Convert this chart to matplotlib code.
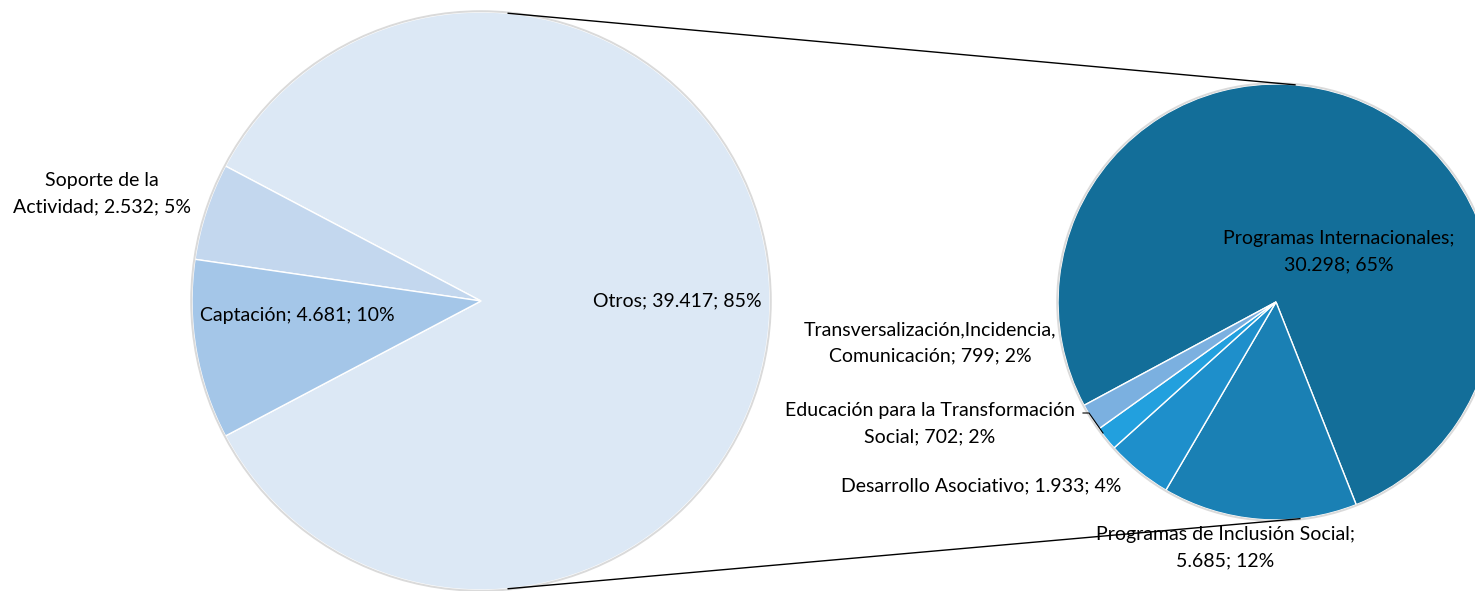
import matplotlib.pyplot as plt
import numpy as np

plt.rcParams['font.family'] = ['Lato', 'DejaVu Sans']

# main pie (left)
main_labels = ['Otros', 'Soporte de la\nActividad', 'Captación']
main_values = [39417, 2532, 4681]
main_colors = ['#DCE8F5', '#C3D7EE', '#A4C6E8']

# detail pie (right) - breakdown of "Otros"
sub_labels = ['Programas Internacionales;\n', 'Programas de Inclusión Social;\n',
              'Desarrollo Asociativo; ', 'Educación para la Transformación\nSocial; ',
              'Transversalización,Incidencia,\nComunicación; ']
sub_values = [30298, 5685, 1933, 702, 799]
sub_colors = ['#136E99', '#1A80B4', '#1E8FCB', '#22A0DE', '#7BB0E0']

W, H = 1475, 591
fig = plt.figure(figsize=(W / 100, H / 100), dpi=100)
ax = fig.add_axes([0, 0, 1, 1])

# centers/radii in pixel space (y up)
c1, r1 = (481, H - 301), 289
c2, r2 = (1276, H - 302), 218

otros_deg = main_values[0] / sum(main_values) * 360
ax.pie(main_values, colors=main_colors, center=c1, radius=r1,
       startangle=-otros_deg / 2, counterclock=True,
       wedgeprops=dict(edgecolor='white', linewidth=1))
ax.pie(sub_values, colors=sub_colors, center=c2, radius=r2,
       startangle=208.3, counterclock=False,
       wedgeprops=dict(edgecolor='white', linewidth=1))

# soft gray rim around each pie
for c, r in [(c1, r1), (c2, r2)]:
    ax.add_patch(plt.Circle(c, r + 0.8, fill=False, edgecolor='#DADADA', linewidth=1.4, zorder=3))

# connector lines between pies
def on_circle(c, r, deg):
    t = np.deg2rad(deg)
    return c[0] + r * np.cos(t), c[1] + r * np.sin(t)

for a1, a2 in [(84.6, 85.0), (-84.6, -83.7)]:
    p1 = on_circle(c1, r1, a1)
    p2 = on_circle(c2, r2, a2)
    ax.plot([p1[0], p2[0]], [p1[1], p2[1]], color='black', linewidth=1, zorder=4)

fs = 14
ls = 1.65
total = sum(main_values)

def fmt(v):
    return f'{v:,}'.replace(',', '.')

def pct(v):
    return f'{round(v / total * 100)}%'

# main labels
ax.text(677, H - 301, f'{main_labels[0]}; {fmt(main_values[0])}; {pct(main_values[0])}',
        ha='center', va='center', fontsize=fs, zorder=5)
ax.text(102, H - 194, f'{main_labels[1]}; {fmt(main_values[1])}; {pct(main_values[1])}',
        ha='center', va='center', fontsize=fs, zorder=5, linespacing=ls)
ax.text(297, H - 316, f'{main_labels[2]}; {fmt(main_values[2])}; {pct(main_values[2])}',
        ha='center', va='center', fontsize=fs, zorder=5)

# sub labels
sub_pos = [(1339, 252), (1225, 548), (981, 486), (930, 424), (930, 343)]
for lab, v, (x, y) in zip(sub_labels, sub_values, sub_pos):
    ax.text(x, H - y, f'{lab}{fmt(v)}; {pct(v)}', ha='center', va='center',
            fontsize=fs, zorder=5, linespacing=ls)

# leader line for Educación label
ax.plot([1083, 1089, 1103], [H - 413, H - 413, H - 433], color='black', linewidth=0.8, zorder=4)

ax.set_xlim(0, W)
ax.set_ylim(0, H)
ax.set_aspect('equal')
ax.axis('off')

fig.savefig('out.png', dpi=100)
